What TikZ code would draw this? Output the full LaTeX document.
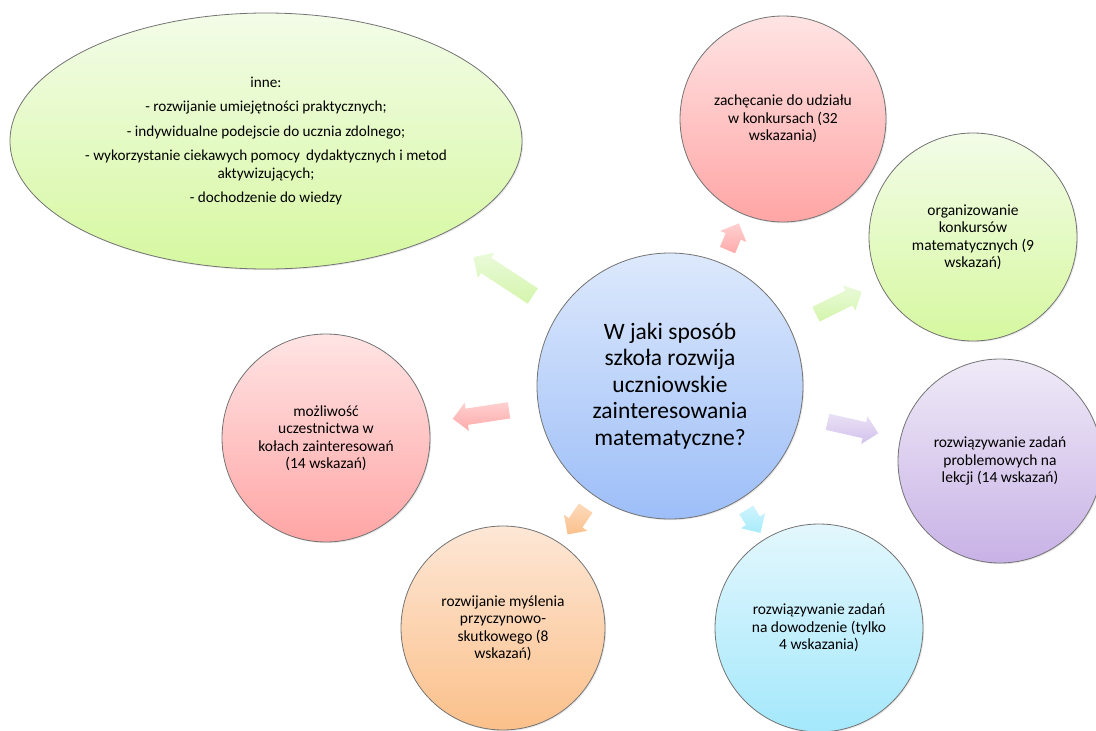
\documentclass[tikz,border=0pt]{standalone}
\usepackage{fontspec}
\setmainfont{Carlito}
\usetikzlibrary{shapes.geometric,shapes.arrows,shadows}
\definecolor{blueT}{HTML}{DDE9FC}\definecolor{blueB}{HTML}{9DBEF8}
\definecolor{redT}{HTML}{FFE4E4}\definecolor{redB}{HTML}{FFA5A5}
\definecolor{greenT}{HTML}{F3FCE8}\definecolor{greenB}{HTML}{D6F8A0}
\definecolor{purT}{HTML}{EFEAF7}\definecolor{purB}{HTML}{C8B2E6}
\definecolor{cyT}{HTML}{E3F7FD}\definecolor{cyB}{HTML}{A4E8FC}
\definecolor{orT}{HTML}{FDE7D6}\definecolor{orB}{HTML}{FBC08A}
\definecolor{agT}{HTML}{EAFADA}\definecolor{agB}{HTML}{D4F5AC}
\definecolor{arT}{HTML}{FFD0D0}\definecolor{arB}{HTML}{FFAAAA}
\definecolor{apT}{HTML}{E9E1F5}\definecolor{apB}{HTML}{D2C2EC}
\definecolor{acT}{HTML}{CFF4FD}\definecolor{acB}{HTML}{A8EBFB}
\definecolor{aoT}{HTML}{FCDABC}\definecolor{aoB}{HTML}{FBC08C}
\begin{document}
\begin{tikzpicture}[x=1pt,y=1pt,
  bub/.style={circle, draw=black!55, line width=0.8pt, inner sep=0pt, align=center,
    font=\fontsize{15.5}{17.5}\selectfont,
    drop shadow={shadow xshift=1.2pt, shadow yshift=-1.2pt, opacity=0.18}},
  barrow/.style={single arrow, draw=none, inner xsep=0pt, inner ysep=8pt,
    single arrow head extend=6pt, sloped, allow upside down, anchor=center},
  txt/.style={align=center, inner sep=0pt}
]
\useasboundingbox (0,0) rectangle (1096,-731);

% outer ellipse
\node[ellipse, draw=black!55, line width=0.8pt, inner sep=0pt, minimum width=512pt, minimum height=256pt,
  top color=greenT, bottom color=greenB,
  drop shadow={shadow xshift=1.2pt, shadow yshift=-1.2pt, opacity=0.18}] (ell) at (266,-141) {};
\node[txt, font=\fontsize{15.2}{17.5}\selectfont] (elltxt) at (ell.center)
  {inne:\\[7pt]- rozwijanie umiejętności praktycznych;\\[7pt]- indywidualne podejscie do ucznia zdolnego;\\[7pt]- wykorzystanie ciekawych pomocy\ \,dydaktycznych i metod\\aktywizujących;\\[7pt]- dochodzenie do wiedzy};

% center
\node[bub, minimum size=266pt, top color=blueT, bottom color=blueB,
  font=\fontsize{23.5}{26.5}\selectfont] (c) at (670,-386)
  {W jaki sposób\\szkoła rozwija\\uczniowskie\\zainteresowania\\matematyczne?};

% satellites
\node[bub, minimum size=206pt, top color=redT, bottom color=redB] (r1) at (783,-119)
  {zachęcanie do udziału\\w konkursach (32\\wskazania)};
\node[bub, minimum size=208pt, top color=greenT, bottom color=greenB] (g1) at (973,-237)
  {organizowanie\\konkursów\\matematycznych (9\\wskazań)};
\node[bub, minimum size=204pt, top color=purT, bottom color=purB] (p1) at (1000,-461)
  {rozwiązywanie zadań\\problemowych na\\lekcji (14 wskazań)};
\node[bub, minimum size=208pt, top color=cyT, bottom color=cyB] (cy) at (819,-628)
  {rozwiązywanie zadań\\na dowodzenie (tylko\\4 wskazania)};
\node[bub, minimum size=204pt, top color=orT, bottom color=orB] (o1) at (503,-628)
  {rozwijanie myślenia\\przyczynowo-\\skutkowego (8\\wskazań)};
\node[bub, minimum size=208pt, top color=redT, bottom color=redB] (pk) at (326,-438)
  {możliwość\\uczestnictwa w\\kołach zainteresowań\\(14 wskazań)};

% block arrows
\path (c.center) -- ([yshift=20pt]ell.center)
  node[barrow, pos=0.4035, minimum height=71pt, inner ysep=9pt, top color=agT, bottom color=agB] (a1) {};
\path (c.center) -- (r1.center)
  node[barrow, pos=0.545, minimum height=29pt, top color=arT, bottom color=arB] (a2) {};
\path (c.center) -- (g1.center)
  node[barrow, pos=0.545, minimum height=51pt, top color=agT, bottom color=agB] (a3) {};
\path (c.center) -- (p1.center)
  node[barrow, pos=0.542, minimum height=52pt, top color=apT, bottom color=apB] (a4) {};
\path (c.center) -- (cy.center)
  node[barrow, pos=0.545, minimum height=27pt, top color=acT, bottom color=acB] (a5) {};
\path (c.center) -- (o1.center)
  node[barrow, pos=0.545, minimum height=32pt, top color=aoT, bottom color=aoB] (a6) {};
\path (c.center) -- (pk.center)
  node[barrow, pos=0.538, minimum height=57pt, top color=arT, bottom color=arB] (a7) {};
\end{tikzpicture}
\end{document}
